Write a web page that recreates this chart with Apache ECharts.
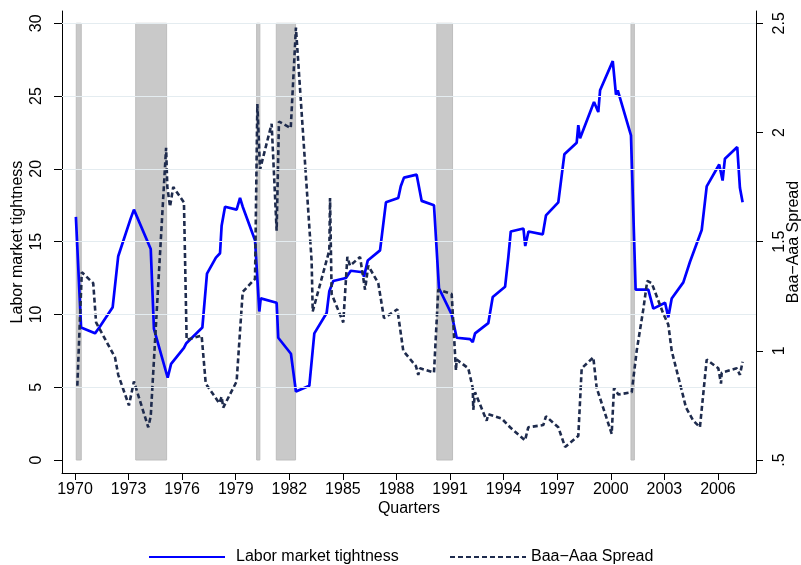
<!DOCTYPE html>
<html>
<head>
<meta charset="utf-8">
<script src="https://cdn.jsdelivr.net/npm/echarts@6/dist/echarts.min.js"></script>
<style>
html,body{margin:0;padding:0;background:#fff}
#chart{width:801px;height:565px}
</style>
</head>
<body>
<div id="chart"></div>
<script>
var yearTicks = [1970,1973,1976,1979,1982,1985,1988,1991,1994,1997,2000,2003,2006];
var leftTicks = [0,5,10,15,20,25,30];
var rightTicks = [0.5,1,1.5,2,2.5];
var recessions = [[1970.07,1970.35],[1973.40,1975.13],[1980.17,1980.35],[1981.27,1982.35],[1990.26,1991.14],[2001.13,2001.32]];

// labor market tightness (left axis)
var tightQ = [1970.05,1970.34,1971.12,1971.36,1972.11,1972.42,1973.12,1973.30,1974.24,1974.42,
  1975.19,1975.38,1976.10,1976.22,1977.13,1977.39,1977.89,1978.12,1978.21,1978.40,
  1979.05,1979.24,1979.39,1980.08,1980.32,1980.40,1981.29,1981.38,1982.09,1982.37,
  1983.12,1983.40,1984.09,1984.24,1984.46,1985.17,1985.44,1986.11,1986.18,1986.39,
  1987.08,1987.41,1988.10,1988.24,1988.42,1989.13,1989.41,1990.10,1990.38,1991.09,
  1991.37,1992.12,1992.27,1992.40,1993.14,1993.39,1994.08,1994.26,1994.40,1995.11,
  1995.21,1995.39,1996.19,1996.37,1997.06,1997.40,1998.09,1998.18,1998.28,1999.06,
  1999.30,1999.40,2000.11,2000.29,2000.39,2001.13,2001.39,2002.10,2002.38,2003.04,
  2003.22,2003.41,2004.06,2004.43,2005.09,2005.37,2006.07,2006.26,2006.39,2007.08,
  2007.23,2007.38];
var tightV = [16.7,9.1,8.7,9.1,10.5,14.0,16.6,17.2,14.5,9.0,
  5.65,6.6,7.7,8.0,9.1,12.8,13.9,14.2,16.1,17.4,
  17.2,18.0,17.4,15.1,10.2,11.1,10.8,8.4,7.3,4.7,
  5.1,8.7,10.1,11.6,12.3,12.5,13.0,12.9,12.6,13.7,
  14.4,17.7,18.0,18.8,19.4,19.6,17.8,17.5,11.8,10.0,
  8.4,8.3,8.1,8.7,9.4,11.2,11.9,13.9,15.7,15.9,
  14.7,15.7,15.5,16.8,17.7,21.0,21.8,23.0,22.1,24.6,
  23.9,25.4,27.4,25.1,25.4,22.3,11.7,11.7,10.4,10.8,
  9.8,11.1,12.2,13.6,15.8,18.8,20.3,19.2,20.7,21.5,
  18.7,17.7];

// Baa-Aaa spread (right axis)
var spreadQ = [1970.13,1970.38,1971.02,1971.18,1972.24,1972.42,1973.02,1973.30,1974.10,1974.24,
  1975.10,1975.17,1975.32,1975.50,1976.10,1976.25,1977.09,1977.32,1978.08,1978.21,
  1978.30,1979.05,1979.39,1980.08,1980.21,1980.36,1981.01,1981.29,1981.42,1982.08,
  1982.37,1983.25,1983.31,1983.44,1984.24,1984.28,1984.37,1985.02,1985.25,1985.40,
  1985.96,1986.24,1986.42,1986.98,1987.30,1988.05,1988.38,1989.09,1989.22,1989.32,
  1990.10,1990.34,1991.09,1991.33,1991.37,1992.02,1992.27,1992.30,1992.40,1993.05,
  1993.14,1993.89,1994.36,1995.20,1995.38,1996.22,1996.37,1997.06,1997.44,1998.18,
  1998.37,1999.02,1999.21,2000.05,2000.18,2000.42,2001.17,2001.45,2001.82,2002.04,
  2002.29,2002.94,2003.22,2003.41,2004.06,2004.21,2004.62,2004.99,2005.37,2006.02,
  2006.17,2006.21,2007.05,2007.23,2007.38];
var spreadV = [0.84,1.36,1.31,1.13,0.97,0.89,0.75,0.86,0.65,0.70,
  1.93,1.75,1.66,1.75,1.68,1.05,1.07,0.85,0.76,0.79,
  0.74,0.86,1.27,1.33,2.13,1.83,2.04,1.55,2.05,2.02,
  2.48,1.41,1.18,1.22,1.46,1.70,1.26,1.13,1.43,1.39,
  1.43,1.28,1.39,1.31,1.15,1.19,1.00,0.93,0.89,0.92,
  0.90,1.28,1.26,0.91,0.96,0.92,0.83,0.73,0.81,0.68,
  0.71,0.69,0.65,0.59,0.65,0.66,0.70,0.65,0.56,0.61,
  0.92,0.97,0.83,0.62,0.83,0.80,0.81,1.00,1.19,1.32,
  1.31,1.17,1.12,1.00,0.79,0.74,0.68,0.65,0.96,0.92,
  0.85,0.90,0.92,0.89,0.95];

var font = 'Liberation Sans';
var tightData = tightQ.map(function(q,i){ return [q, tightV[i]]; });
var spreadData = spreadQ.map(function(q,i){ return [q, spreadV[i]]; });

var chart = echarts.init(document.getElementById('chart'));
var option = {
  animation: false,
  backgroundColor: '#fff',
  textStyle: { fontFamily: font, color: '#000' },
  grid: { left: 62, right: 45, top: 11, bottom: 92, containLabel: false, outerBoundsMode: 'none' },
  legend: [
    {
      left: 143, top: 544, itemWidth: 76, itemHeight: 14, itemGap: 0,
      data: ['Labor market tightness'],
      itemStyle: { opacity: 0 },
      textStyle: { fontFamily: font, fontSize: 16, color: '#000', padding: [0,0,0,6] }
    },
    {
      left: 444, top: 544, itemWidth: 76, itemHeight: 14, itemGap: 0,
      data: ['Baa\u2212Aaa Spread'],
      itemStyle: { opacity: 0 },
      textStyle: { fontFamily: font, fontSize: 16, color: '#000', padding: [0,0,0,0] }
    }
  ],
  xAxis: {
    type: 'value', min: 1969.272, max: 2008.13,
    name: 'Quarters', nameLocation: 'middle', nameGap: 28, nameMoveOverlap: false,
    nameTextStyle: { fontFamily: font, fontSize: 16, color: '#000' },
    axisLine: { onZero: false, lineStyle: { color: '#000', width: 1 } },
    axisTick: { customValues: yearTicks, length: 7, lineStyle: { color: '#000' } },
    axisLabel: {
      customValues: yearTicks, fontFamily: font, fontSize: 16, color: '#000', margin: 9,
      formatter: function (v) { return String(v); }
    },
    splitLine: { show: false }
  },
  yAxis: [
    {
      type: 'value', position: 'left', min: -0.893, max: 30.845,
      name: 'Labor market tightness', nameLocation: 'middle', nameRotate: 90, nameGap: 36, nameMoveOverlap: false,
      nameTextStyle: { fontFamily: font, fontSize: 16, color: '#000' },
      axisLine: { show: true, onZero: false, lineStyle: { color: '#000', width: 1 } },
      axisTick: { show: true, customValues: leftTicks, length: 8, lineStyle: { color: '#000' } },
      axisLabel: { customValues: leftTicks, rotate: 90, margin: 17, fontFamily: font, fontSize: 16, color: '#000' },
      splitLine: { show: false }
    },
    {
      type: 'value', position: 'right', min: 0.4405, max: 2.5563,
      name: 'Baa\u2212Aaa Spread', nameLocation: 'middle', nameRotate: 90, nameGap: 30, nameMoveOverlap: false,
      nameTextStyle: { fontFamily: font, fontSize: 16, color: '#000' },
      axisLine: { show: true, onZero: false, lineStyle: { color: '#000', width: 1 } },
      axisTick: { show: true, customValues: rightTicks, length: 7, lineStyle: { color: '#000' } },
      axisLabel: {
        customValues: rightTicks, rotate: 90, margin: 16, fontFamily: font, fontSize: 16, color: '#000',
        formatter: function (v) { return v === 0.5 ? '.5' : String(v); }
      },
      splitLine: { show: false }
    }
  ],
  series: [
    {
      name: 'grid', type: 'line', data: [], z: 0, silent: true,
      markLine: {
        silent: true, symbol: ['none','none'], label: { show: false },
        lineStyle: { color: '#e4ecf0', width: 1.2, type: 'solid' },
        data: leftTicks.slice(1).map(function(v){ return { yAxis: v }; })
      }
    },
    {
      name: 'recession', type: 'line', data: [], z: 1, silent: true,
      markArea: {
        silent: true,
        itemStyle: { color: '#c9c9c9', borderColor: '#bdbdbd', borderWidth: 1 },
        data: recessions.map(function(r){ return [{ xAxis: r[0], yAxis: 0 }, { xAxis: r[1], yAxis: 30 }]; })
      }
    },
    {
      name: 'Labor market tightness', type: 'line', yAxisIndex: 0, z: 3,
      data: tightData, symbol: 'none', showSymbol: false,
      lineStyle: { color: '#0000ff', width: 2.7 }, itemStyle: { color: '#0000ff' }
    },
    {
      name: 'Baa\u2212Aaa Spread', type: 'line', yAxisIndex: 1, z: 4,
      data: spreadData, symbol: 'none', showSymbol: false,
      lineStyle: { color: '#1e2b4d', width: 2.6, type: [5, 3] }, itemStyle: { color: '#1e2b4d' }
    }
  ]
};
chart.setOption(option);
</script>
</body>
</html>
